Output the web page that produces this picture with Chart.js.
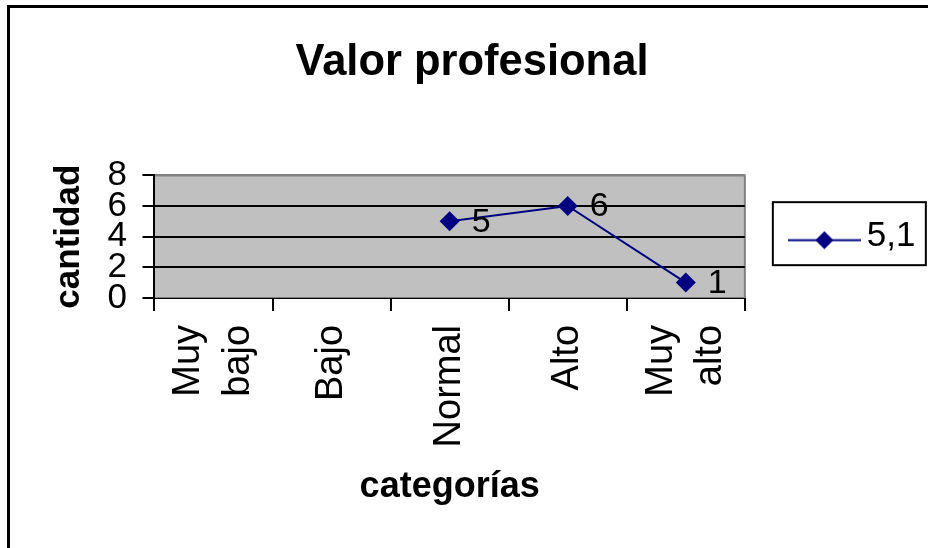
<!DOCTYPE html>
<html>
<head>
<meta charset="utf-8">
<script src="https://cdn.jsdelivr.net/npm/chart.js@4/dist/chart.umd.min.js"></script>
<style>
  html, body { margin: 0; padding: 0; background: #fff; overflow: hidden; }
  #frame {
    position: absolute; left: 7px; top: 5px;
    width: 930px; height: 550px;
    border-left: 3px solid #000; border-top: 3px solid #000;
  }
  #chart { display: block; }
</style>
</head>
<body>
<div id="frame"><canvas id="chart" width="924" height="540"></canvas></div>
<script>
// data
const categorias = [['Muy', 'bajo'], 'Bajo', 'Normal', 'Alto', ['Muy', 'alto']];
const valores = [null, null, 5, 6, 1];
const serie = '5,1';
const yMin = 0, yMax = 8, yStep = 2;

const navy = '#000080';
Chart.defaults.font.family = '"Liberation Sans", Arial, sans-serif';
Chart.defaults.color = '#000';

// legend symbol: line with a diamond, like the Excel key
const legendImg = document.createElement('canvas');
legendImg.width = 73; legendImg.height = 26;
(function () {
  const g = legendImg.getContext('2d');
  g.strokeStyle = navy; g.lineWidth = 2;
  g.beginPath(); g.moveTo(0, 16.5); g.lineTo(73, 16.5); g.stroke();
  g.fillStyle = navy;
  g.beginPath();
  g.moveTo(36.5, 7.5); g.lineTo(45.5, 16.5); g.lineTo(36.5, 25.5); g.lineTo(27.5, 16.5);
  g.closePath(); g.fill();
})();

// grey plot area with grey top/right edge
const plotArea = {
  id: 'plotArea',
  beforeDraw(chart) {
    const {ctx, chartArea: a} = chart;
    ctx.save();
    ctx.fillStyle = '#c0c0c0';
    ctx.fillRect(a.left, a.top, a.right - a.left, a.bottom - a.top);
    ctx.strokeStyle = '#808080';
    ctx.lineWidth = 2;
    ctx.beginPath();
    ctx.moveTo(a.left, a.top); ctx.lineTo(a.right, a.top); ctx.lineTo(a.right, a.bottom);
    ctx.stroke();
    ctx.restore();
  }
};

// centre two-line rotated labels on their category
const centreLabels = {
  id: 'centreLabels',
  afterLayout(chart) {
    chart.scales.x.getLabelItems().forEach(item => {
      if (Array.isArray(item.label)) {
        item.options.translation[0] -= (item.label.length - 1) * item.font.lineHeight / 2;
      }
    });
  }
};

// value labels to the right of each point
const valueLabels = {
  id: 'valueLabels',
  afterDatasetsDraw(chart) {
    const {ctx} = chart;
    const meta = chart.getDatasetMeta(0);
    ctx.save();
    ctx.font = '34px "Liberation Sans", Arial, sans-serif';
    ctx.fillStyle = '#000';
    ctx.textAlign = 'left';
    ctx.textBaseline = 'middle';
    meta.data.forEach((pt, i) => {
      if (valores[i] == null) return;
      ctx.fillText(String(valores[i]), pt.x + 22, pt.y + 1);
    });
    ctx.restore();
  }
};

// box around the legend
const legendBox = {
  id: 'legendBox',
  afterDraw(chart) {
    const hb = chart.legend.legendHitBoxes[0];
    if (!hb) return;
    const cy = hb.top + hb.height / 2;
    const {ctx} = chart;
    ctx.save();
    ctx.strokeStyle = '#000';
    ctx.lineWidth = 2;
    ctx.strokeRect(hb.left - 26.5, cy - 34.5, 153, 63);
    ctx.restore();
  }
};

new Chart(document.getElementById('chart'), {
  type: 'line',
  data: {
    labels: categorias,
    datasets: [{
      label: serie,
      data: valores,
      borderColor: navy,
      backgroundColor: navy,
      borderWidth: 2,
      tension: 0,
      pointStyle: 'rectRot',
      pointRadius: 10,
      pointBorderWidth: 0,
      pointBackgroundColor: navy
    }]
  },
  options: {
    responsive: false,
    animation: false,
    events: [],
    layout: { padding: { left: 8.5, right: 8.5, top: 0, bottom: 43 } },
    plugins: {
      title: {
        display: true,
        text: 'Valor profesional',
        color: '#000',
        font: { size: 43.5, weight: 'bold' },
        padding: { top: 29, bottom: 86.2 }
      },
      legend: {
        position: 'right',
        fullSize: false,
        onClick: null,
        labels: {
          usePointStyle: true,
          pointStyle: legendImg,
          pointStyleWidth: 50,
          padding: 54.5,
          color: '#000',
          font: { size: 35 }
        }
      },
      tooltip: { enabled: false }
    },
    scales: {
      x: {
        offset: true,
        grid: {
          offset: true,
          drawOnChartArea: false,
          drawTicks: true,
          tickLength: 13,
          color: '#000',
          lineWidth: 2
        },
        border: { color: '#808080', width: 1 },
        ticks: {
          autoSkip: false,
          minRotation: 90,
          maxRotation: 90,
          padding: 14,
          color: '#000',
          font: { size: 38, lineHeight: 1.3 }
        },
        title: {
          display: true,
          text: 'categorías',
          color: '#000',
          font: { size: 36, weight: 'bold', lineHeight: 1 },
          padding: { top: 7.6, bottom: 0 }
        }
      },
      y: {
        min: yMin,
        max: yMax,
        grid: {
          color: c => (c.tick && c.tick.value === yMax ? '#808080' : '#000'),
          tickColor: '#000',
          lineWidth: 2,
          tickLength: 12
        },
        border: { color: '#000', width: 2 },
        ticks: {
          stepSize: yStep,
          autoSkip: false,
          padding: 15.5,
          color: '#000',
          font: { size: 35 }
        },
        title: {
          display: true,
          text: 'cantidad',
          color: '#000',
          font: { size: 35, weight: 'bold' },
          padding: { top: 29.5, bottom: 2 }
        }
      }
    }
  },
  plugins: [plotArea, centreLabels, valueLabels, legendBox]
});
</script>
</body>
</html>
